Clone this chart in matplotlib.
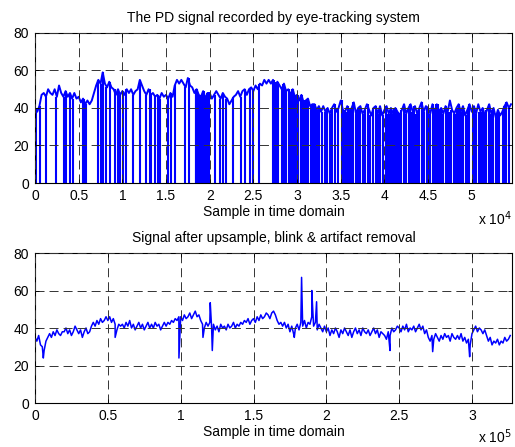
import numpy as np
import matplotlib
matplotlib.use('Agg')
import matplotlib.pyplot as plt
from matplotlib.ticker import FuncFormatter, MultipleLocator

plt.rcParams['font.family'] = ['Liberation Sans', 'DejaVu Sans']
plt.rcParams['lines.scale_dashes'] = False

top_title = 'The PD signal recorded by eye-tracking system'
bottom_title = 'Signal after upsample, blink & artifact removal'
xlabel_text = 'Sample in time domain'

# ---- top panel: raw pupil signal (sampled every 250 samples) ----
top_step = 250
top_values = [
    40, 38, 41, 47,  48, 46, 50, 48,  47, 50, 46, 52,  48, 46, 49, 46,
    48, 45, 48, 45,  46, 43, 45, 42,  44, 42, 44, 48,  52, 55, 53, 59,
    53, 51, 54, 51,  50, 47, 50, 47,  49, 47, 50, 48,  50, 47, 49, 50,
    55, 52, 49, 47,  50, 47, 48, 46,  47, 45, 48, 46,  47, 45, 48, 46,
    52, 55, 53, 55,  53, 51, 56, 52,  51, 48, 50, 47,  46, 49, 45, 48,
    48, 45, 47, 49,  47, 45, 48, 46,  45, 42, 44, 46,  47, 49, 46, 49,
    50, 47, 50, 51,  49, 52, 50, 53,  52, 55, 53, 55,  53, 55, 52, 54,
    52, 50, 53, 49,  50, 47, 50, 46,  47, 44, 47, 43,  44, 45, 41, 42,
    42, 39, 41, 38,  41, 38, 40, 37,  40, 42, 38, 40,  44, 39, 38, 41,
    38, 40, 43, 37,  40, 41, 37, 39,  42, 39, 36, 40,  41, 37, 41, 36,
    39, 41, 37, 40,  37, 40, 38, 36,  39, 42, 37, 40,  42, 38, 41, 37,
    40, 43, 38, 41,  40, 37, 42, 37,  42, 38, 40, 37,  41, 38, 44, 39,
    37, 40, 42, 38,  41, 36, 39, 42,  38, 41, 37, 42,  38, 40, 36, 39,
    42, 37, 40, 35,  39, 36, 38, 41,  43, 40, 42,
]
top_dropouts = [
    100, 540, 1300, 2440, 3280, 3580, 3970, 4350, 5490, 5570, 5650, 5740, 5830,
    7210, 7590, 7780, 8160, 8580, 9120, 9500, 9760, 10070, 10450, 11210,
    11980, 12730, 13120, 13300, 13690, 14070, 14340, 15220, 15600, 15980,
    17130, 17620, 18400, 18480, 18560, 18640, 18720, 18800, 18880, 18960,
    19040, 19120, 19200, 19300, 19380, 19460, 19540, 19620, 19700, 19800,
    19900, 20560, 21130, 21510, 21890, 22650, 23610, 23990, 24560, 24940,
    25700, 27230, 27330, 27430, 27530, 27630, 27730, 27830, 28330, 28430,
    28530, 28630, 28730, 29100, 29180, 29260, 29340, 29420, 29500, 29580,
    29660, 29740, 29820, 29900, 29980, 30060, 30400, 30500, 30600, 30700,
    30800, 30900, 31000, 31100, 31200, 31620, 31800, 32000, 32300, 32570,
    32850, 33150, 33450, 33720, 34000, 34290, 34670, 35100, 35240, 35400,
    35620, 35800, 36000, 36200, 36380, 36700, 36960, 37250, 37530, 37800,
    38100, 38400, 38670, 39000, 39300, 39550, 39820, 40190, 40400, 40570,
    40760, 40960, 41150, 41340, 41530, 41720, 41910, 42200, 42480, 42790,
    42980, 43170, 43400, 43630, 43820, 44010, 44300, 44590, 44890, 45050,
    45230, 45540, 45720, 45920, 46100, 46300, 46500, 46680, 47060, 47220,
    47370, 47640, 47940, 48120, 48320, 48590, 48780, 48970, 49350, 49540,
    49730, 50110, 50300, 50500, 50880, 51060, 51260, 51450, 51640, 52020,
    52200, 52400, 52780, 52960, 53170, 53550, 53740, 53930, 54310,
]

# ---- bottom panel: cleaned, upsampled signal (every 1250 samples) ----
bot_step = 1250
bot_values = [
    35, 33, 36, 31, 30, 28, 33, 35,  37, 35, 38, 36, 39, 37, 36, 38,
    38, 40, 37, 39, 36, 38, 41, 39,  37, 39, 35, 38, 40, 37, 38, 41,
    43, 41, 44, 42, 45, 43, 44, 46,  44, 46, 43, 45, 42, 39, 42, 41,
    42, 40, 43, 41, 44, 40, 42, 39,  41, 43, 40, 42, 39, 41, 43, 40,
    42, 40, 43, 41, 42, 39, 41, 43,  41, 43, 42, 44, 43, 45, 44, 46,
    46, 44, 47, 45, 46, 48, 45, 47,  49, 46, 47, 44, 42, 40, 43, 41,
    43, 40, 42, 39, 41, 38, 42, 40,  41, 39, 42, 40, 41, 43, 40, 42,
    41, 43, 42, 44, 43, 45, 42, 44,  45, 43, 46, 44, 47, 45, 46, 48,
    47, 45, 48, 49, 47, 44, 42, 43,  41, 43, 40, 42, 38, 41, 37, 40,
    42, 39, 43, 41, 44, 40, 43, 42,  46, 41, 43, 39, 42, 40, 38, 41,
    38, 40, 36, 39, 37, 40, 38, 35,  39, 37, 40, 38, 36, 39, 35, 38,
    40, 37, 39, 36, 40, 38, 37, 39,  36, 38, 40, 37, 39, 35, 38, 37,
    36, 34, 38, 36, 40, 38, 39, 41,  40, 38, 41, 39, 42, 38, 40, 39,
    41, 38, 40, 42, 39, 41, 37, 39,  35, 33, 36, 34, 37, 35, 33, 36,
    34, 37, 35, 36, 33, 37, 35, 34,  36, 34, 37, 33, 35, 32, 34, 31,
    37, 39, 41, 38, 40, 39, 37, 39,  36, 33, 35, 31, 33, 32, 34, 31,
    33, 32, 35, 33, 34, 36,
]
bot_spike_x = [5700, 55000, 98800, 115300, 120300, 121700, 178000,
               183000, 190000, 193300, 243700, 273000, 298400]
bot_spike_y = [24, 35, 24, 35, 53.5, 28, 35, 67, 60, 54, 28, 27.4, 24.7]

top_xmax = 54600
bot_xmax = 327400

fig = plt.figure(figsize=(5.15, 4.47), dpi=100)
ax1 = fig.add_axes([0.068, 0.5906, 0.926, 0.3356])
ax2 = fig.add_axes([0.068, 0.0984, 0.926, 0.3356])

blue = '#0000ff'

# top
tv = np.array(top_values, dtype=float)
tx = np.arange(len(tv)) * top_step
ax1.plot(tx, tv, color=blue, lw=1.4)
td = np.array(top_dropouts)
idx = np.clip(np.round(td / top_step).astype(int), 0, len(tv) - 1)
ax1.vlines(td, 0, tv[idx], color=blue, lw=1.5)

# bottom
bv = np.array(bot_values, dtype=float)
bx = np.arange(len(bv)) * bot_step
allx = np.concatenate([bx, np.array(bot_spike_x)])
ally = np.concatenate([bv, np.array(bot_spike_y)])
order = np.argsort(allx, kind='stable')
ax2.plot(allx[order], ally[order], color=blue, lw=1.1)

for ax, xmax, step, scale, title, mult, my in [
        (ax1, top_xmax, 5000, 1e4, top_title, r'x 10$^4$', -0.24),
        (ax2, bot_xmax, 50000, 1e5, bottom_title, r'x 10$^5$', -0.225)]:
    ax.set_xlim(0, xmax)
    ax.set_ylim(0, 80)
    ax.xaxis.set_major_locator(MultipleLocator(step))
    ax.yaxis.set_major_locator(MultipleLocator(20))
    ax.xaxis.set_major_formatter(FuncFormatter(lambda v, p, s=scale: f'{v / s:g}'))
    ax.tick_params(direction='in', length=3, width=0.6, labelsize=10,
                   top=True, right=True, pad=4.5)
    ax.set_axisbelow(False)
    ax.grid(True, linestyle=(0, (6.5, 3.6)), color='0.2', linewidth=0.7)
    for sp in ax.spines.values():
        sp.set_linewidth(0.8)
    ax.set_title(title, fontsize=10, pad=8)
    ax.set_xlabel(xlabel_text, fontsize=10, labelpad=1)
    ax.text(1.0, my, mult, transform=ax.transAxes, ha='right',
            va='center', fontsize=10)

fig.savefig('out.png', dpi=100, facecolor='white')
